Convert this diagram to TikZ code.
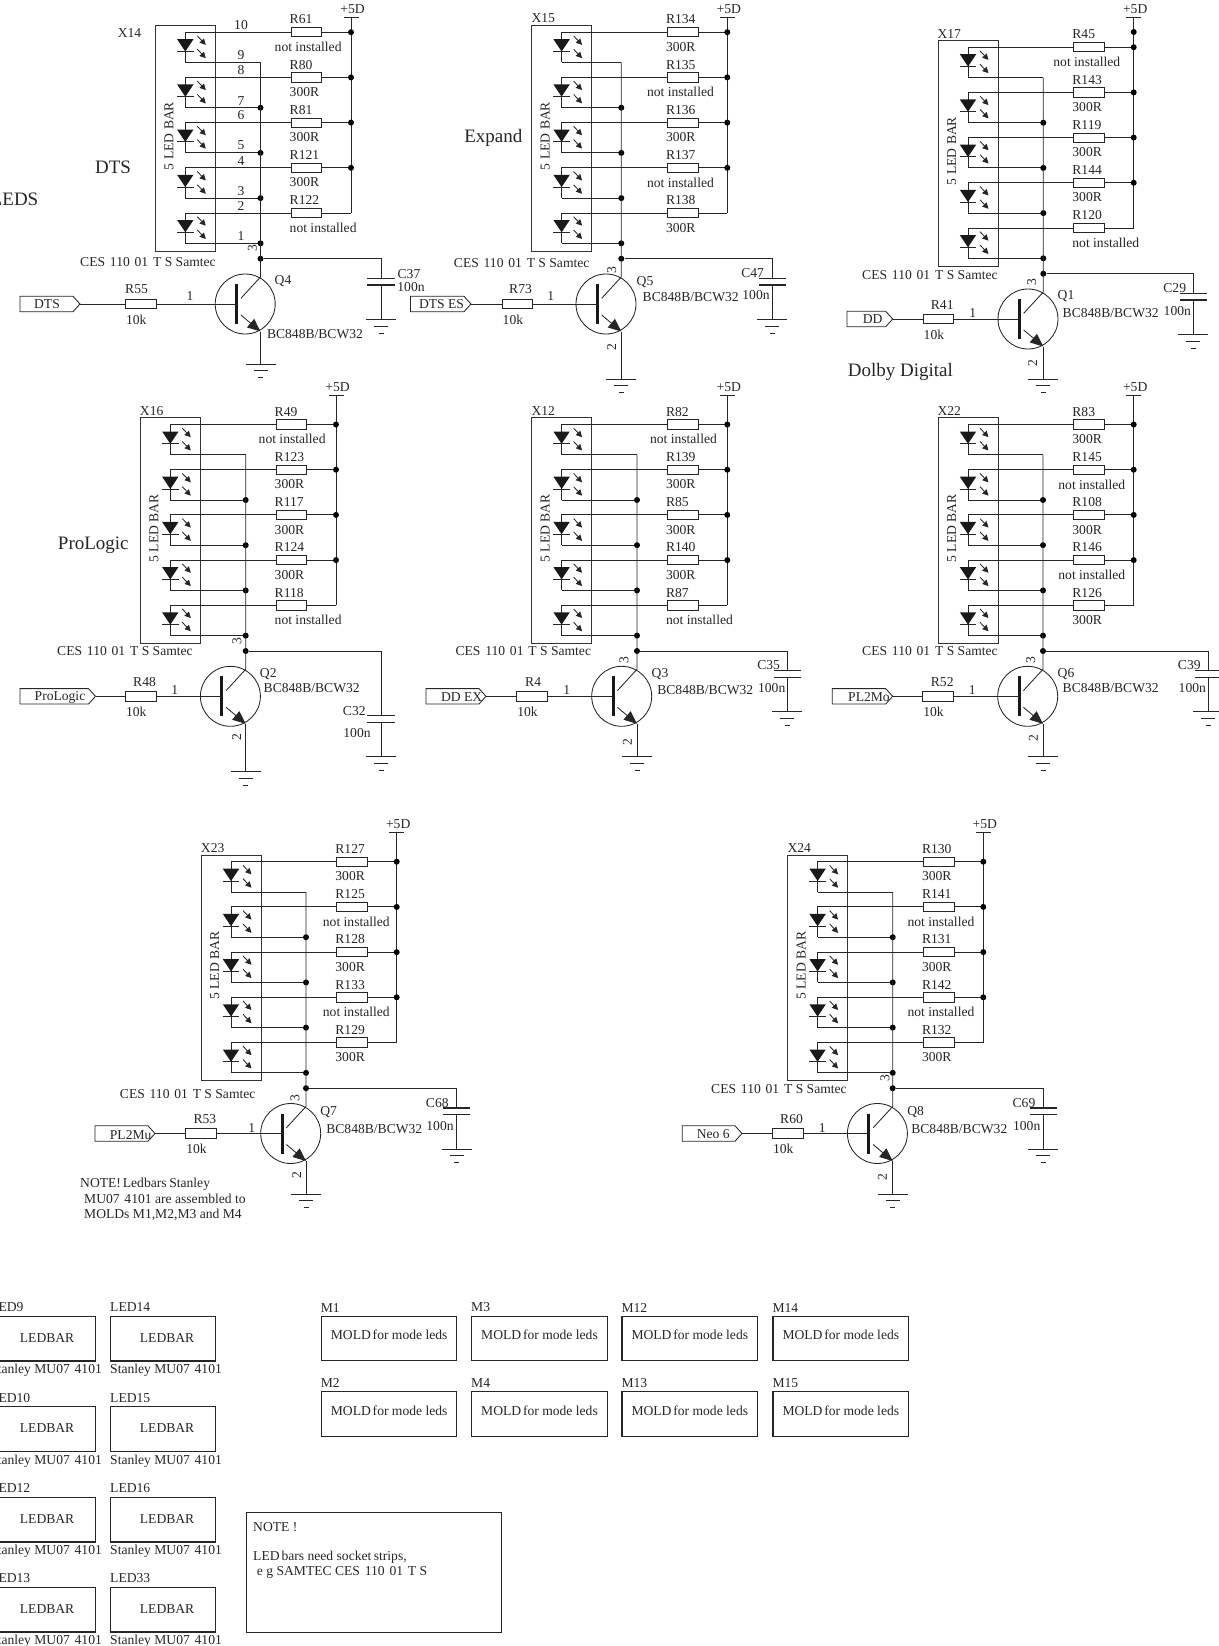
\documentclass[tikz,border=0pt]{standalone}
\usepackage{fontspec}
\setmainfont{Liberation Serif}
\usepackage{tikz}
\usetikzlibrary{%
  arrows.meta%
  ,positioning%
}
\tikzset{%
  lbl/.style={inner sep=0pt,yshift=-1pt,text=black!85,font=\fontsize{13.6}{15}\selectfont},
  biglbl/.style={inner sep=0pt,yshift=-2.5pt,text=black!85,font=\fontsize{19}{21}\selectfont},
  wire/.style={line width=.85pt,color=black!85},
  dotj/.style={circle,fill=black,inner sep=0pt,minimum size=6pt},
  resbox/.style={draw=black!85,line width=.85pt,fill=white,inner sep=0pt,minimum width=30.5pt,minimum height=9.3pt},
  partbox/.style={draw=black!85,line width=1.2pt,inner sep=0pt},
  lighttip/.style={wire,-{Triangle[length=6pt,width=6pt]}},
}
\newcommand{\capdrop}{0}
\newcommand{\gapsp}{\hspace{1.4pt}}
% ground symbol, three bars
\newcommand{\gndsym}[2]{%
  \draw[wire] (#1-15,#2) -- (#1+15,#2);
  \draw[wire] (#1-7,#2+6.5) -- (#1+7,#2+6.5);
  \draw[wire] (#1-2.5,#2+13.5) -- (#1+2.5,#2+13.5);
}
% #1 prefix, #2 box x, #3 box top, #4 bus offset, #5 supply bar y, #6 rows
\newcommand{\ledbar}[6]{%
  \node[draw=black!80,line width=.85pt,inner sep=0pt,minimum width=60pt,minimum height=225.5pt,anchor=north west] (#1box) at (#2,#3) {};
  \node[lbl,rotate=90] (#1bar) at (#2+14,#3+110) {5 LED BAR};
  \coordinate (#1bustop) at (#2+#4,#3+37.5);
  \coordinate (#1railend) at (#2+196,#3+188);
  \coordinate (#1supply) at (#2+196,#5);
  \node[lbl] (#1plus) at (#2+197.5,#5-9) {+5D};
  \draw[wire] (#2+188.5,#5) -- (#2+203.5,#5);
  \draw[wire] (#1supply) -- (#1railend);
  \foreach \rname/\rval/\roff [count=\i from 0] in {#6} {
    \pgfmathsetmacro\ya{#3+7.2+45.2*\i}
    \pgfmathsetmacro\yc{\ya+30.3}
    \coordinate (#1a\i) at (#2+30.3,\ya);
    \coordinate (#1c\i) at (#2+30.3,\yc);
    \coordinate (#1s\i) at (#2+196,\ya);
    \coordinate (#1b\i) at (#2+#4,\yc);
    \node[resbox,anchor=west] (#1r\i) at (#2+135.7,\ya) {};
    \node[lbl,anchor=west] (#1rn\i) at (#2+134.5,\ya-13.7) {\rname};
    \node[lbl,anchor=west] (#1rv\i) at (#2+134.5+\roff,\ya+13.7) {\rval};
    \draw[wire] (#1c\i) -- (#1a\i) -- (#1r\i) -- (#1s\i);
    \draw[wire] (#1c\i) -- (#1b\i);
    \fill[black!90] (#2+22.1,\ya+7) -- (#2+38.5,\ya+7) -- (#2+30.3,\ya+19.3) -- cycle;
    \draw[wire] (#2+22.1,\ya+19.3) -- (#2+38.5,\ya+19.3);
    \draw[lighttip] (#2+42.3,\ya+3.7) -- (#2+50.8,\ya+12.7);
    \draw[lighttip] (#2+42.3,\ya+17) -- (#2+50.8,\ya+26);
    \ifnum\i<4 \node[dotj] at (#1s\i) {}; \fi
    \ifnum\i>0 \node[dotj] at (#1b\i) {}; \fi
  }
}
% #1 prefix, #2 bus x, #3 box top, #4 ground y, #5 cap x, #6 res x, #7 flag left, #8 flag tip
\newcommand{\driver}[8]{%
  \pgfmathsetmacro\trany{#3+279}
  \pgfmathsetmacro\tranx{#2-15.3}
  \node[draw=black!85,line width=.85pt,circle,inner sep=0pt,minimum size=60pt] (#1t) at (\tranx,\trany) {};
  \node[dotj] (#1j) at (#2,#3+233.7) {};
  \coordinate (#1coll) at (#2,\trany-27);
  \coordinate (#1emit) at (#2,\trany+27.5);
  \coordinate (#1gnd) at (#2,#4);
  \coordinate (#1base) at (\tranx-8.5,\trany);
  \coordinate (#1flag) at (#8,\trany);
  \draw[wire] (#1bustop -| #1j) -- (#1coll) -- (\tranx-4.3,\trany-5.7);
  \draw[line width=3pt,color=black!90] (\tranx-8.5,\trany-20) -- (\tranx-8.5,\trany+20);
  \draw[wire,-{Triangle[length=13pt,width=11pt]}] (\tranx-4.3,\trany+11) -- (#1emit);
  \draw[wire] (#1emit) -- (#1gnd);
  \gndsym{#2}{#4}
  \node[resbox,anchor=west] (#1rb) at (#6,\trany) {};
  \node[lbl,anchor=west] (#1rbv) at (#6+.8,\trany+14.5) {10k};
  \draw[wire] (#1flag) -- (#1rb) -- (#1base);
  \draw[wire] (#7,\trany-7.7) -- (#8-7,\trany-7.7) -- (#1flag) -- (#8-7,\trany+7.7) -- (#7,\trany+7.7) -- cycle;
  % capacitor to ground
  \coordinate (#1ct) at (#5,#3+253.5+\capdrop);
  \coordinate (#1cb) at (#5,#3+260+\capdrop);
  \coordinate (#1cg) at (#5,#3+294.5+\capdrop);
  \draw[wire] (#1j) -| (#1ct);
  \draw[wire] (#1cb) -- (#1cg);
  \draw[line width=1.1pt,color=black!85] (#5-13.7,#3+253.5+\capdrop) -- (#5+13.7,#3+253.5+\capdrop);
  \draw[line width=1.1pt,color=black!85] (#5-13.7,#3+260+\capdrop) -- (#5+13.7,#3+260+\capdrop);
  \gndsym{#5}{#3+294.5+\capdrop}
}
\begin{document}
\begin{tikzpicture}[x=1pt,y=-1pt]
  \useasboundingbox (0,0) rectangle (1218,1646);
  \ledbar{dts}{155}{25}{105.5}{17.5}{R61/not installed/-15,R80/300R/0,R81/300R/0,R121/300R/0,R122/not installed/0}
  \driver{dts}{260.5}{25}{364}{381}{125}{20}{80}
  \ledbar{exp}{531.3}{25}{90}{17.5}{R134/300R/0,R135/not installed/-19,R136/300R/0,R137/not installed/-19,R138/300R/0}
  \driver{exp}{621.3}{25}{379.3}{772.3}{501.7}{410.5}{471}
  \ledbar{dd}{937.7}{40}{105.6}{17.5}{R45/not installed/-19,R143/300R/0,R119/300R/0,R144/300R/0,R120/not installed/0}
  \driver{dd}{1043.3}{40}{379.3}{1193.3}{922.7}{847}{892.7}
  \node[dotj] (ddextra) at (1133.7,32) {};
  \ledbar{pl}{140}{417.3}{105.7}{395}{R49/not installed/-16,R123/300R/0,R117/300R/0,R124/300R/0,R118/not installed/0}
  \renewcommand{\capdrop}{45}
  \driver{pl}{245.7}{417.3}{771.7}{381}{125}{20}{95.5}
  \renewcommand{\capdrop}{0}
  \ledbar{ddex}{531.3}{417.3}{105.7}{395}{R82/not installed/-16,R139/300R/0,R85/300R/0,R140/300R/0,R87/not installed/0}
  \driver{ddex}{637}{417.3}{756.7}{787.3}{516.3}{426}{486}
  \ledbar{mo}{937.7}{417.3}{105.3}{395}{R83/300R/0,R145/not installed/-14,R108/300R/0,R146/not installed/-14,R126/300R/0}
  \driver{mo}{1043}{417.3}{756.7}{1208.3}{922.3}{832.3}{892.7}
  \ledbar{mu}{200.7}{854.5}{105.3}{832.5}{R127/300R/0,R125/not installed/-12.5,R128/300R/0,R133/not installed/-12.5,R129/300R/0}
  \driver{mu}{306}{854.5}{1194.3}{456.7}{185.3}{95}{155}
  \ledbar{neo}{787.3}{854.5}{105.4}{832.5}{R130/300R/0,R141/not installed/-14.5,R131/300R/0,R142/not installed/-14.5,R132/300R/0}
  \driver{neo}{892.7}{854.5}{1194.3}{1043.3}{772}{682.3}{742}

  %% connector names
  \foreach \txt/\px/\py in {X14/129.5/32,X15/543.3/17.3,X17/949.3/33,X16/151.7/410,X12/543.3/410,X22/949.3/410,X23/212.7/847,X24/799.3/847}
    \node[lbl] (\txt) at (\px,\py) {\txt};
  \foreach \px/\py [count=\i] in {148/261,521.7/261.7,930/273.7,125/650.3,523.3/650.3,930/650.3,187.7/1093.3,779/1088.3}
    \node[lbl] (ces\i) at (\px,\py) {CES\gapsp{} 110\gapsp{} 01\gapsp{} T S Samtec};
  %% transistors
  \foreach \txt/\px/\py in {Q4/283/280.5,Q5/645/281,Q1/1066/295.3,Q2/268.3/673.3,Q3/660/673.3,Q6/1066/673.3,Q7/328.7/1111.3,Q8/915.7/1111}
    \node[lbl] (\txt) at (\px,\py) {\txt};
  \foreach \px/\py [count=\i] in {315/332.7,690.7/296,1110.7/312.3,311.7/687.3,705.3/689.3,1110.7/687.3,374.3/1127.7,959.3/1127.7}
    \node[lbl] (bc\i) at (\px,\py) {BC848B/BCW32};
  %% capacitors
  \foreach \txt/\px/\py in {C37/409/273.3,C47/752.7/271.7,C29/1174.7/287.3,C32/354.3/710,C35/768.7/664.3,C39/1189.3/664.3,C68/437.3/1102.3,C69/1024/1102.3}
    \node[lbl] (\txt) at (\px,\py) {\txt};
  \foreach \px/\py [count=\i] in {411/286,756/294.3,1177.3/310,357/732.3,771.7/686.7,1192.3/686.7,440/1125,1026.7/1125}
    \node[lbl] (cv\i) at (\px,\py) {100n};
  %% base resistors and pin 1
  \foreach \txt/\px/\py in {R55/125/288.3,R73/509/288.3,R41/930.7/303.7,R48/133/681,R4/525/681,R52/930.7/681,R53/193.3/1118.5,R60/780/1118.5}
    \node[lbl,anchor=west] (\txt) at (\px,\py) {\txt};
  \foreach \px/\py [count=\i] in {190/295.5,550.7/295.5,972.7/311.7,174.7/689,566.7/689,972.3/689,251.7/1127.3,822.3/1126.7}
    \node[lbl] (pina\i) at (\px,\py) {1};
  %% pins on the transistors
  \foreach \px/\py [count=\i] in {252.5/247.5,611.7/269,1031.7/281,237/640,624/658.7,1030.7/658.7,295/1097.3,885/1076.7}
    \node[lbl,rotate=90] (pinc\i) at (\px,\py) {3};
  \foreach \px/\py [count=\i] in {611.7/345.7,1032.7/361.7,236.7/736,627.3/741,1033.3/736.7,296.7/1174.3,882.3/1175.7}
    \node[lbl,rotate=90] (pine\i) at (\px,\py) {2};
  %% pins of X14
  \foreach \txt/\py in {10/24.5,9/54,8/69,7/100,6/114.5,5/144,4/160,3/190,2/205,1/235}
    \node[lbl] (xpin\txt) at (241,\py) {\txt};
  %% signal flags
  \foreach \txt/\px/\py [count=\i] in {DTS/47/303,DTS ES/441.5/303,DD/872.7/318,ProLogic/60/696.7,DD EX/461.7/696,PL2Mo/869/696,PL2Mu/130.7/1134,Neo 6/713.3/1133.5}
    \node[lbl] (sig\i) at (\px,\py) {\txt};
  %% big titles
  \foreach \txt/\px/\py [count=\i] in {DTS/113/165,Expand/493.3/135,ProLogic/93.3/542.7,Dolby Digital/900.3/369}
    \node[biglbl] (title\i) at (\px,\py) {\txt};
  \node[biglbl,anchor=east] (titleleds) at (38.5,197) {LEDS};
  %% note
  \node[lbl,anchor=west] (notea) at (80,1183) {NOTE!\hspace{-1.5pt} Ledbars\hspace{-.8pt} Stanley};
  \node[lbl,anchor=west] (noteb) at (84,1198) {MU07\gapsp{} 4101 are assembled to};
  \node[lbl,anchor=west] (notec) at (84,1213.5) {MOLDs M1,M2,M3 and M4};

  %% led bars
  \foreach \nm/\bx/\by in {LED9/-10/1315.7,LED10/-10/1406,LED12/-10/1496.7,LED13/-10/1586.7,LED14/110/1315.7,LED15/110/1406,LED16/110/1496.7,LED33/110/1586.7} {
    \node[partbox,minimum width=105pt,minimum height=44.7pt,anchor=north west] (\nm) at (\bx,\by) {};
    \node[lbl] (\nm txt) at ([xshift=4pt,yshift=2pt]\nm.center) {LEDBAR};
    \node[lbl,above right=4.5pt and 0pt of \nm.north west] (\nm top) {\nm};
    \node[lbl,below right=1.5pt and 0pt of \nm.south west] (\nm low) {Stanley MU07\gapsp{} 4101};
  }
  %% molds
  \foreach \nm/\bx/\by in {M1/320.7/1315.7,M2/320.7/1391,M3/471/1315.7,M4/471/1391,M12/621.3/1315.7,M13/621.3/1391,M14/772.3/1315.7,M15/772.3/1391} {
    \node[partbox,minimum width=135.5pt,minimum height=44.5pt,anchor=north west] (\nm) at (\bx,\by) {};
    \node[lbl,anchor=west] (\nm txt) at ([xshift=10pt,yshift=-18.5pt]\nm.north west) {MOLD\hspace{-1.6pt} for mode leds};
    \node[lbl,above right=4.5pt and 0pt of \nm.north west] (\nm top) {\nm};
  }
  \node[partbox,minimum width=255pt,minimum height=120pt,anchor=north west] (notebox) at (245.7,1511.7) {};
  \node[lbl,anchor=west] (noted) at (253,1525.7) {NOTE !};
  \node[lbl,anchor=west] (notee) at (253,1556.7) {LED\hspace{-1.5pt} bars need socket\hspace{-1pt} strips,};
  \node[lbl,anchor=west] (notef) at (256.7,1571.7) {e g SAMTEC CES\gapsp{} 110\gapsp{} 01\gapsp{} T S};
\end{tikzpicture}
\end{document}
